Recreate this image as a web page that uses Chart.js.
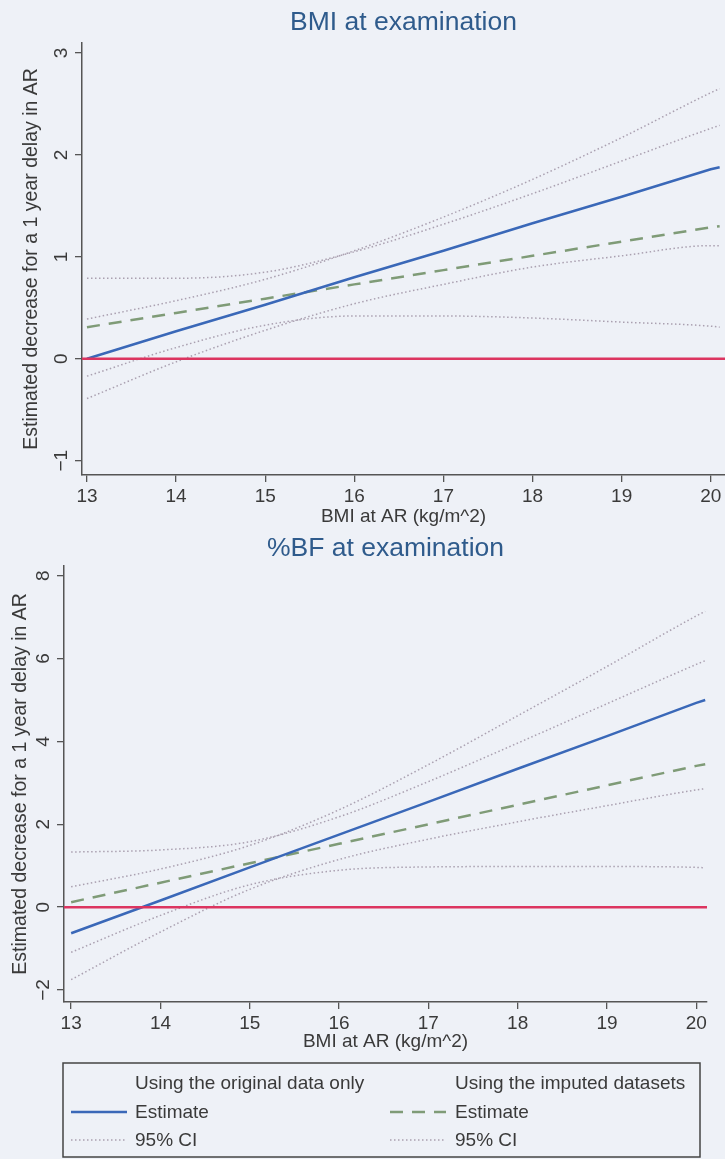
<!DOCTYPE html>
<html>
<head>
<meta charset="utf-8">
<script src="https://cdn.jsdelivr.net/npm/chart.js@4.4.1/dist/chart.umd.min.js"></script>
<style>
  html, body { margin: 0; padding: 0; background: #eef1f7; }
  #wrap { position: relative; width: 725px; height: 1159px; overflow: hidden; }
  #c1 { position: absolute; left: 0; top: 0; }
  #c2 { position: absolute; left: 0; top: 526px; }
</style>
</head>
<body>
<div id="wrap">
  <canvas id="c1" width="725" height="530"></canvas>
  <canvas id="c2" width="725" height="633"></canvas>
</div>
<script>
// BMI at AR (x values of the fitted lines)
var bmi = [13, 14, 15, 16, 17, 18, 19, 20, 20.1];

// top panel: BMI at examination
var bmiEstOrig = [0.00, 0.27, 0.53, 0.80, 1.06, 1.33, 1.59, 1.86, 1.88];
var bmiHiOrig  = [0.39, 0.57, 0.78, 1.06, 1.39, 1.76, 2.17, 2.61, 2.65];
var bmiLoOrig  = [-0.39, -0.03, 0.28, 0.54, 0.73, 0.90, 1.01, 1.11, 1.11];
var bmiEstImp  = [0.31, 0.45, 0.59, 0.73, 0.87, 1.01, 1.15, 1.29, 1.30];
var bmiHiImp   = [0.79, 0.79, 0.85, 1.05, 1.32, 1.62, 1.94, 2.26, 2.29];
var bmiLoImp   = [-0.17, 0.11, 0.33, 0.42, 0.42, 0.40, 0.36, 0.32, 0.31];

// bottom panel: %BF at examination
var bfEstOrig = [-0.63, 0.16, 0.96, 1.75, 2.54, 3.34, 4.13, 4.93, 5.00];
var bfHiOrig  = [0.49, 0.92, 1.49, 2.35, 3.44, 4.62, 5.81, 7.03, 7.14];
var bfLoOrig  = [-1.75, -0.60, 0.43, 1.15, 1.64, 2.06, 2.45, 2.83, 2.86];
var bfEstImp  = [0.12, 0.59, 1.06, 1.53, 2.00, 2.47, 2.94, 3.41, 3.45];
var bfHiImp   = [1.33, 1.38, 1.58, 2.18, 3.03, 3.96, 4.91, 5.86, 5.95];
var bfLoImp   = [-1.09, -0.20, 0.54, 0.89, 0.97, 0.98, 0.98, 0.96, 0.95];

var xTicks = [13, 14, 15, 16, 17, 18, 19, 20];
var yTicksBmi = [-1, 0, 1, 2, 3];
var yTicksBf = [-2, 0, 2, 4, 6, 8];

var narrow = "'Liberation Sans Narrow', 'Arial Narrow', 'Liberation Sans', sans-serif";
var sans = "'Liberation Sans', Arial, sans-serif";
var ink = '#3a3a3a';
var axisCol = '#555';

var styleEstOrig = { borderColor: '#3a68b8', borderWidth: 2.5, borderDash: [] };
var styleEstImp  = { borderColor: '#7f9b77', borderWidth: 2.5, borderDash: [13, 9] };
var styleCI      = { borderColor: '#aaa0b0', borderWidth: 1.5, borderDash: [1.5, 2.5] };

function pts(ys) {
  return bmi.map(function (x, i) { return { x: x, y: ys[i] }; });
}

function line(ys, style, smooth) {
  return {
    data: pts(ys),
    borderColor: style.borderColor,
    borderWidth: style.borderWidth,
    borderDash: style.borderDash,
    pointRadius: 0,
    fill: false,
    cubicInterpolationMode: smooth ? 'monotone' : 'default',
    tension: 0,
  };
}

// y tick labels are turned on their side, as in Stata
var sideTicks = {
  id: 'sideTicks',
  afterDraw: function (chart) {
    var ctx = chart.ctx, s = chart.scales.y;
    ctx.save();
    ctx.fillStyle = ink;
    ctx.font = '19px ' + narrow;
    ctx.textAlign = 'center';
    ctx.textBaseline = 'middle';
    s.ticks.forEach(function (t) {
      var y = s.getPixelForValue(t.value);
      ctx.save();
      ctx.translate(chart.chartArea.left - 20, y);
      ctx.rotate(-Math.PI / 2);
      ctx.fillText(String(t.value).replace('-', '\u2212'), 0, 0);
      ctx.restore();
    });
    ctx.restore();
  }
};

function makeConfig(o) {
  return {
    type: 'line',
    data: {
      datasets: [
        { data: [{ x: o.xMin, y: 0 }, { x: o.xMax, y: 0 }], borderColor: '#dc3560', borderWidth: 2.5, pointRadius: 0 },
        line(o.estOrig, styleEstOrig, false),
        line(o.estImp, styleEstImp, false),
        line(o.hiOrig, styleCI, true),
        line(o.loOrig, styleCI, true),
        line(o.hiImp, styleCI, true),
        line(o.loImp, styleCI, true),
      ],
    },
    options: {
      responsive: false,
      animation: false,
      layout: { padding: o.padding },
      plugins: {
        legend: { display: false },
        tooltip: { enabled: false },
        title: {
          display: true,
          fullSize: false,
          text: o.title,
          color: '#2f5b8c',
          font: { family: narrow, size: 26.5, weight: 'normal' },
          padding: o.titlePad,
        },
      },
      scales: {
        x: {
          type: 'linear',
          min: o.xMin,
          max: o.xMax,
          afterBuildTicks: function (s) { s.ticks = xTicks.map(function (v) { return { value: v }; }); },
          afterFit: function (s) { s.height = 53; },
          ticks: { color: ink, font: { family: narrow, size: 19 }, padding: 3, maxRotation: 0, autoSkip: false },
          grid: { drawOnChartArea: false, drawTicks: true, tickLength: 7, color: axisCol, lineWidth: 1.3 },
          border: { display: true, color: axisCol, width: 1.5 },
          title: {
            display: true,
            text: 'BMI at AR (kg/m^2)',
            color: ink,
            font: { family: narrow, size: 19 },
            padding: { top: 0, bottom: o.xTitlePad },
          },
        },
        y: {
          min: o.yMin,
          max: o.yMax,
          afterBuildTicks: function (s) { s.ticks = o.yTicks.map(function (v) { return { value: v }; }); },
          afterFit: function (s) { s.width = o.yWidth; },
          ticks: { display: false },
          grid: { drawOnChartArea: false, drawTicks: true, tickLength: 7, color: axisCol, lineWidth: 1.3 },
          border: { display: true, color: axisCol, width: 1.5 },
          title: {
            display: true,
            text: 'Estimated decrease for a 1 year delay in AR',
            color: ink,
            font: { family: sans, size: 19.5 },
            padding: { top: o.yTitlePad, bottom: 0 },
          },
        },
      },
    },
    plugins: o.plugins,
  };
}

// legend box under the second panel
var legendBox = {
  id: 'legendBox',
  afterDraw: function (chart) {
    var ctx = chart.ctx;
    ctx.save();
    ctx.strokeStyle = '#444';
    ctx.lineWidth = 1.5;
    ctx.strokeRect(63, 537, 637, 94);

    function sample(x1, x2, y, st) {
      ctx.beginPath();
      ctx.strokeStyle = st.borderColor;
      ctx.lineWidth = st.borderWidth;
      ctx.setLineDash(st.borderDash);
      ctx.moveTo(x1, y);
      ctx.lineTo(x2, y);
      ctx.stroke();
      ctx.setLineDash([]);
    }
    ctx.fillStyle = ink;
    ctx.font = '19px ' + narrow;
    ctx.textBaseline = 'middle';
    ctx.fillText('Using the original data only', 135, 558);
    ctx.fillText('Using the imputed datasets', 455, 558);

    sample(71, 127, 586, styleEstOrig);
    ctx.fillText('Estimate', 135, 587);
    sample(390, 446, 586, styleEstImp);
    ctx.fillText('Estimate', 455, 587);

    sample(71, 127, 614, styleCI);
    ctx.fillText('95% CI', 135, 615);
    sample(390, 446, 614, styleCI);
    ctx.fillText('95% CI', 455, 615);
    ctx.restore();
  }
};

var config1 = makeConfig({
  title: 'BMI at examination',
  estOrig: bmiEstOrig, hiOrig: bmiHiOrig, loOrig: bmiLoOrig,
  estImp: bmiEstImp, hiImp: bmiHiImp, loImp: bmiLoImp,
  xMin: 12.944, xMax: 20.16,
  yMin: -1.14, yMax: 3.1, yTicks: yTicksBmi,
  yWidth: 82,
  padding: { top: 0, left: 0, right: 0, bottom: 2 },
  titlePad: { top: 7, bottom: 4 },
  xTitlePad: 0,
  yTitlePad: 20,
  plugins: [sideTicks],
});

var config2 = makeConfig({
  title: '%BF at examination',
  estOrig: bfEstOrig, hiOrig: bfHiOrig, loOrig: bfLoOrig,
  estImp: bfEstImp, hiImp: bfHiImp, loImp: bfLoImp,
  xMin: 12.92, xMax: 20.12,
  yMin: -2.29, yMax: 8.24, yTicks: yTicksBf,
  yWidth: 64,
  padding: { top: 0, left: 0, right: 18, bottom: 104 },
  titlePad: { top: 7, bottom: 1 },
  xTitlePad: 2,
  yTitlePad: 9,
  plugins: [sideTicks, legendBox],
});

var chart1 = new Chart(document.getElementById('c1'), config1);
var chart2 = new Chart(document.getElementById('c2'), config2);
</script>
</body>
</html>
